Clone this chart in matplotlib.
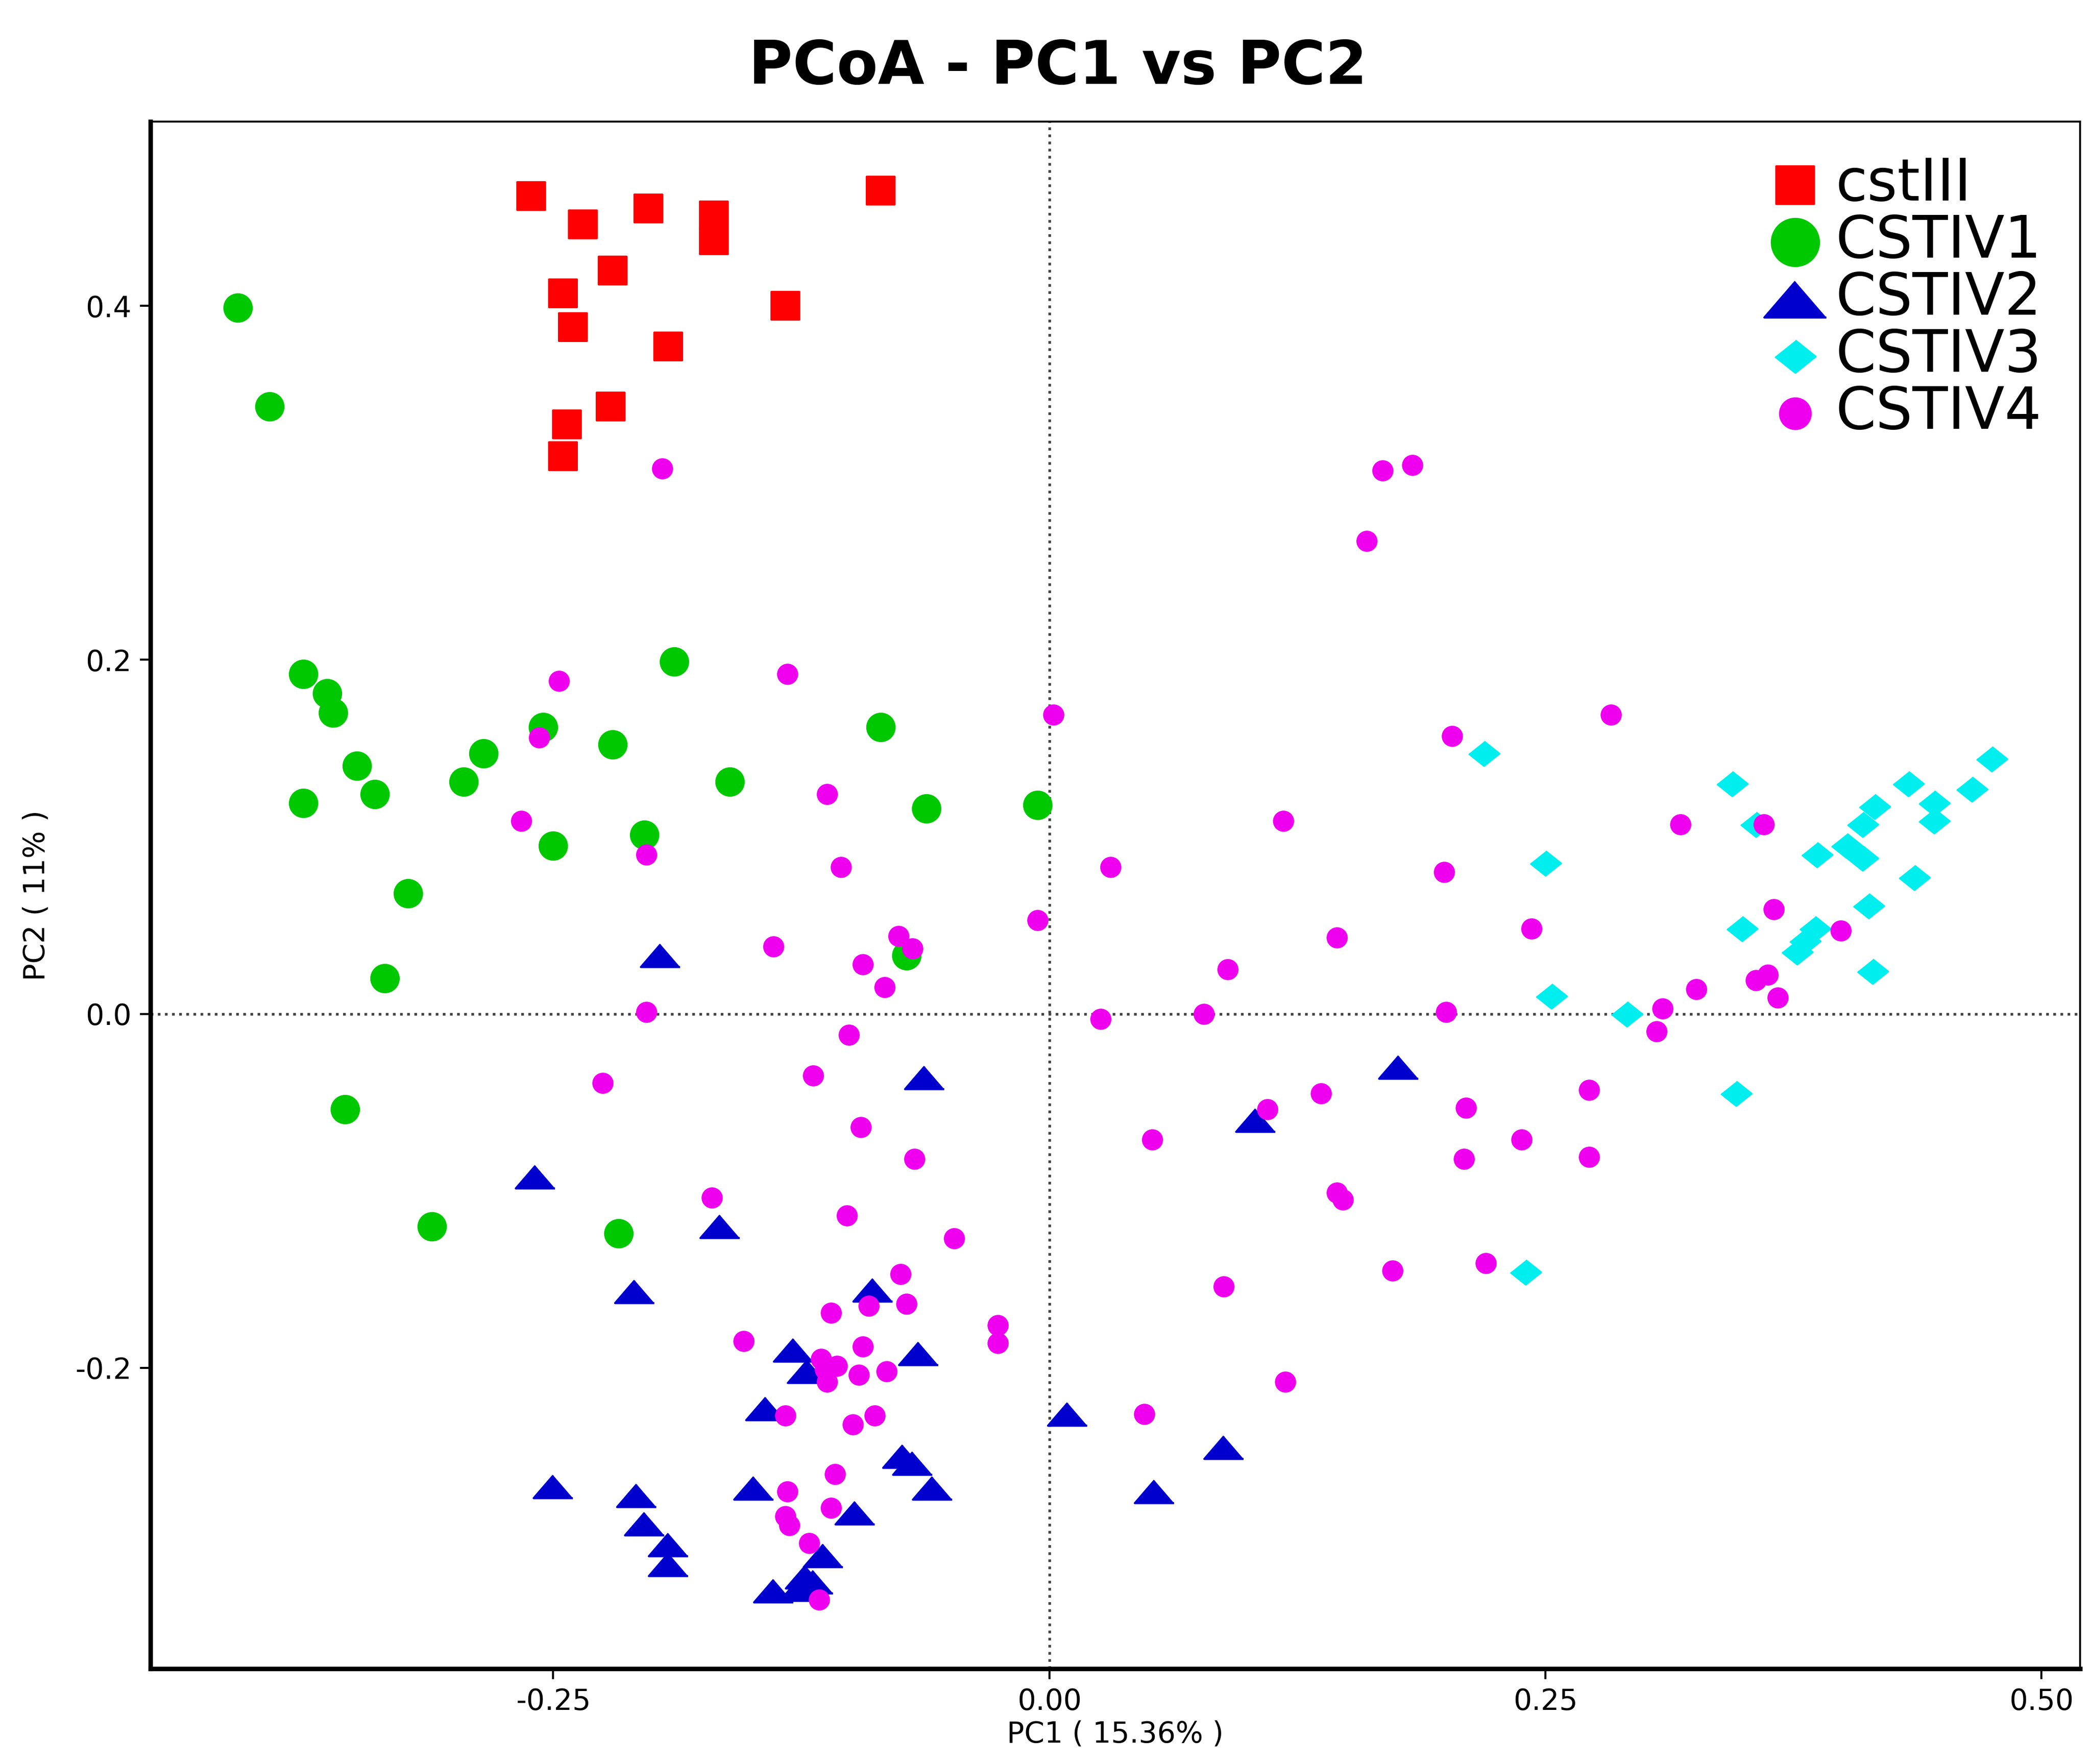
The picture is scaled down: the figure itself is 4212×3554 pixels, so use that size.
import numpy as np
import matplotlib
matplotlib.use('Agg')
import matplotlib.pyplot as plt

plt.rcParams['font.family'] = ['DejaVu Sans']

# 各组样本坐标 (PC1, PC2)
cst3_x = [-0.261, -0.235, -0.202, -0.169, -0.169, -0.085, -0.220, -0.245, -0.240, -0.133,
          -0.192, -0.221, -0.243, -0.245]
cst3_y = [0.462, 0.446, 0.455, 0.451, 0.437, 0.465, 0.420, 0.407, 0.388, 0.400,
          0.377, 0.343, 0.333, 0.315]

iv1_x = [-0.409, -0.393, -0.376, -0.364, -0.361, -0.349, -0.376, -0.340, -0.285, -0.295,
         -0.255, -0.189, -0.220, -0.161, -0.250, -0.204, -0.323, -0.335, -0.355, -0.311,
         -0.217, -0.085, -0.062, -0.006, -0.072]
iv1_y = [0.399, 0.343, 0.192, 0.181, 0.170, 0.140, 0.119, 0.124, 0.147, 0.131,
         0.162, 0.199, 0.152, 0.131, 0.095, 0.101, 0.068, 0.020, -0.054, -0.120,
         -0.124, 0.162, 0.116, 0.118, 0.033]

iv2_x = [-0.196, -0.259, -0.166, -0.063, 0.104, -0.209, -0.089, -0.129, -0.122, -0.066,
         -0.143, 0.009, -0.074, -0.069, -0.059, -0.250, -0.208, -0.204, -0.192, -0.192,
         -0.149, -0.098, -0.114, -0.123, -0.119, -0.139, -0.126, 0.176, 0.088, 0.053]
iv2_y = [0.033, -0.092, -0.120, -0.036, -0.060, -0.157, -0.156, -0.190, -0.202, -0.192,
         -0.223, -0.226, -0.250, -0.254, -0.268, -0.267, -0.272, -0.288, -0.300, -0.311,
         -0.268, -0.282, -0.306, -0.318, -0.321, -0.326, -0.325, -0.030, -0.245, -0.270]

iv3_x = [0.219, 0.344, 0.475, 0.433, 0.465, 0.416, 0.446, 0.446, 0.410, 0.356,
         0.402, 0.410, 0.387, 0.436, 0.250, 0.413, 0.349, 0.386, 0.381, 0.377,
         0.415, 0.253, 0.291, 0.346, 0.240]
iv3_y = [0.147, 0.130, 0.144, 0.130, 0.127, 0.117, 0.119, 0.109, 0.107, 0.107,
         0.095, 0.088, 0.090, 0.077, 0.085, 0.061, 0.048, 0.048, 0.041, 0.035,
         0.024, 0.010, 0.000, -0.045, -0.146]

iv4_x = [-0.195, 0.168, 0.183, 0.160, -0.247, -0.257, -0.266, -0.203, -0.132, -0.139,
         -0.203, -0.225, -0.170, 0.002, -0.112, -0.105, 0.031, 0.118, -0.006, -0.076,
         -0.069, -0.094, -0.083, 0.145, 0.090, 0.078, 0.026, -0.101, -0.119, -0.095,
         -0.068, 0.137, 0.110, 0.052, -0.102, -0.048, -0.075, -0.072, -0.091, -0.110,
         -0.154, -0.094, -0.026, -0.026, -0.115, -0.107, -0.113, -0.112, -0.096, -0.082,
         -0.133, -0.088, -0.099, -0.108, -0.132, -0.110, -0.133, -0.131, -0.121, -0.116,
         0.048, 0.283, 0.203, 0.318, 0.360, 0.199, 0.243, 0.365, 0.399, 0.356,
         0.362, 0.367, 0.326, 0.309, 0.306, 0.200, 0.210, 0.272, 0.238, 0.209,
         0.272, 0.145, 0.148, 0.173, 0.220, 0.088, 0.119]
iv4_y = [0.308, 0.307, 0.310, 0.267, 0.188, 0.156, 0.109, 0.090, 0.192, 0.038,
         0.001, -0.039, -0.104, 0.169, 0.124, 0.083, 0.083, 0.109, 0.053, 0.044,
         0.037, 0.028, 0.015, 0.043, 0.025, 0.000, -0.003, -0.012, -0.035, -0.064,
         -0.082, -0.045, -0.054, -0.071, -0.114, -0.127, -0.147, -0.164, -0.165, -0.169,
         -0.185, -0.188, -0.176, -0.186, -0.195, -0.199, -0.201, -0.208, -0.204, -0.202,
         -0.227, -0.227, -0.232, -0.260, -0.270, -0.279, -0.284, -0.289, -0.299, -0.331,
         -0.226, 0.169, 0.157, 0.107, 0.107, 0.080, 0.048, 0.059, 0.047, 0.019,
         0.022, 0.009, 0.014, 0.003, -0.010, 0.001, -0.053, -0.043, -0.071, -0.082,
         -0.081, -0.101, -0.105, -0.145, -0.141, -0.154, -0.208]

# 扁三角形和菱形
tri = [(0, 0.58), (-1, -0.58), (1, -0.58)]
diamond = [(0, 0.8), (1, 0), (0, -0.8), (-1, 0)]

fig = plt.figure(figsize=(14.04, 11.847), dpi=300)
ax = fig.add_axes([0.0719, 0.054, 0.9229, 0.877])

ax.axhline(0, color='#444444', linestyle=':', linewidth=1.3, zorder=1)
ax.axvline(0, color='#444444', linestyle=':', linewidth=1.3, zorder=1)

ax.scatter(cst3_x, cst3_y, marker='s', s=175, color='#FF0000', label='cstIII', zorder=3)
ax.scatter(iv1_x, iv1_y, marker='o', s=175, color='#00C800', label='CSTIV1', zorder=3)
ax.scatter(iv2_x, iv2_y, marker=tri, s=360, color='#0000CD', label='CSTIV2', zorder=3)
ax.scatter(iv3_x, iv3_y, marker=diamond, s=215, color='#00EEEE', label='CSTIV3', zorder=3)
ax.scatter(iv4_x, iv4_y, marker='o', s=85, color='#EE00EE', label='CSTIV4', zorder=4)

ax.set_xlim(-0.453, 0.5195)
ax.set_ylim(-0.370, 0.504)
ax.set_xticks([-0.25, 0.0, 0.25, 0.5])
ax.set_xticklabels(['-0.25', '0.00', '0.25', '0.50'])
ax.set_yticks([-0.2, 0.0, 0.2, 0.4])
ax.set_yticklabels(['-0.2', '0.0', '0.2', '0.4'])
ax.tick_params(labelsize=14, length=5, width=1, pad=4)

for side in ['left', 'bottom']:
    ax.spines[side].set_linewidth(2.2)
for side in ['top', 'right']:
    ax.spines[side].set_linewidth(0.9)

ax.set_xlabel('PC1 ( 15.36% )', fontsize=14, labelpad=2)
ax.set_ylabel('PC2 ( 11% )', fontsize=14, labelpad=12)

leg = ax.legend(loc='upper right', bbox_to_anchor=(0.98, 0.978), frameon=False,
                fontsize=28, labelspacing=0.0, handlelength=0.9, handletextpad=0.25,
                borderpad=0, borderaxespad=0)
for h, sz in zip(leg.legend_handles, [330, 520, 900, 380, 220]):
    h.set_sizes([sz])

fig.text(0.506, 0.962, 'PCoA - PC1 vs PC2', ha='center', va='center',
         fontsize=29, fontweight='bold')

fig.savefig('out.png', dpi=300)
